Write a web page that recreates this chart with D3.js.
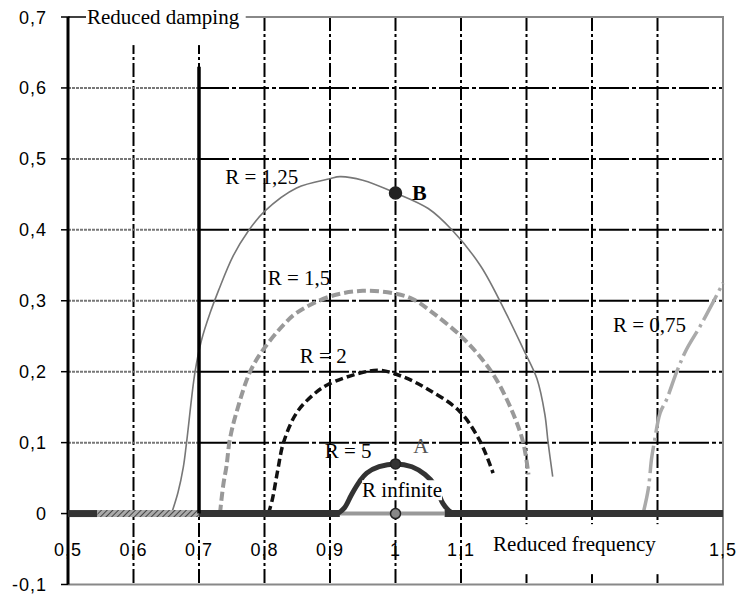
<!DOCTYPE html>
<html>
<head>
<meta charset="utf-8">
<script src="https://cdn.jsdelivr.net/npm/d3@7"></script>
<style>
  body { margin: 0; background: #fff; }
  .tick-label { font-family: "Liberation Sans", Arial, sans-serif; font-size: 18px; fill: #000; }
  .note { font-family: "Liberation Serif", "Times New Roman", Times, "DejaVu Serif", serif; font-size: 21px; fill: #000; }
</style>
</head>
<body>
<div class="damping-chart"></div>
<script>
// axis ticks (tenths)
var xTicks = [5, 6, 7, 8, 9, 10, 11, 12, 13, 14, 15];
var xLabels = [5, 6, 7, 8, 9, 10, 11, 15];
var yTicks = [-1, 0, 1, 2, 3, 4, 5, 6, 7];

// curves: [reduced frequency, reduced damping]
var r125 = [[0.658,0],[0.668,0.03],[0.676,0.065],[0.681,0.1],[0.694,0.2],[0.704,0.245],[0.717,0.283],[0.73,0.315],
  [0.752,0.363],[0.775,0.398],[0.80,0.426],[0.849,0.459],[0.90,0.472],[0.915,0.475],[0.95,0.47],[1.0,0.452],
  [1.05,0.43],[1.086,0.40],[1.13,0.349],[1.17,0.28],[1.195,0.232],[1.216,0.19],[1.228,0.14],[1.233,0.10],[1.24,0.052]];
var r15 = [[0.732,0],[0.737,0.04],[0.742,0.067],[0.747,0.104],[0.757,0.142],[0.778,0.2],[0.798,0.231],[0.829,0.266],
  [0.849,0.283],[0.90,0.306],[0.95,0.314],[1.0,0.31],[1.027,0.302],[1.057,0.283],[1.10,0.25],[1.13,0.22],
  [1.154,0.189],[1.18,0.14],[1.195,0.10],[1.203,0.055]];
var r2 = [[0.806,0],[0.812,0.02],[0.82,0.06],[0.829,0.1],[0.849,0.142],[0.875,0.168],[0.897,0.182],[0.946,0.198],
  [0.976,0.202],[1.011,0.193],[1.05,0.175],[1.098,0.144],[1.129,0.102],[1.149,0.057]];
var rInfinite = [[0.912,0],[0.922,0.008],[0.933,0.027],[0.945,0.045],[0.956,0.057],[0.975,0.066],[1.0,0.07],
  [1.025,0.066],[1.045,0.055],[1.06,0.04],[1.072,0.015],[1.085,0.002],[1.11,0]];
var r075 = [[1.378,0],[1.386,0.035],[1.391,0.078],[1.395,0.1],[1.404,0.142],[1.414,0.161],[1.429,0.199],
  [1.444,0.231],[1.465,0.264],[1.486,0.3],[1.5,0.325]];

// pieces of the zero line
var zeroParts = [
  { from: 0.5,   to: 0.545, kind: "dark" },
  { from: 0.545, to: 0.7,   kind: "hatch" },
  { from: 0.7,   to: 0.915, kind: "dark" },
  { from: 0.915, to: 1.075, kind: "light" },
  { from: 1.075, to: 1.5,   kind: "dark" }
];

// marked points
var points = [
  { f: 1.0, d: 0.452, kind: "B" },
  { f: 1.0, d: 0.07,  kind: "A" },
  { f: 1.0, d: 0,     kind: "zero" }
];

// annotations, anchored in data units
var notes = [
  { text: "R = 1,25", f: 0.740, d: 0.464 },
  { text: "R = 1,5",  f: 0.805, d: 0.322 },
  { text: "R = 2",    f: 0.854, d: 0.212 },
  { text: "R = 5",    f: 0.892, d: 0.079 },
  { text: "R = 0,75", f: 1.332, d: 0.256 }
];

var width = 738, height = 598;

var svg = d3.select(".damping-chart")
    .append("svg")
    .attr("width", width)
    .attr("height", height);

var x = d3.scaleLinear().domain([0.5, 1.5]).range([68, 723]);
var y = d3.scaleLinear().domain([-0.1, 0.7]).range([584.5, 17]);

var loc = d3.formatLocale({ decimal: ",", thousands: " ", grouping: [3], currency: ["", ""], minus: "-" });
var fmt = loc.format("~g");

var defs = svg.append("defs");
var hatch = defs.append("pattern")
    .attr("id", "hatch")
    .attr("patternUnits", "userSpaceOnUse")
    .attr("width", 4).attr("height", 4)
    .attr("patternTransform", "rotate(45)");
hatch.append("rect").attr("width", 4).attr("height", 4).attr("fill", "#aaa");
hatch.append("line").attr("x1", 0).attr("y1", 0).attr("x2", 0).attr("y2", 4)
    .attr("stroke", "#444").attr("stroke-width", 2);

// grid
var grid = svg.append("g").attr("class", "grid");

grid.selectAll("line.vgrid")
    .data(xTicks.slice(1, -1))
  .enter().append("line")
    .attr("class", "vgrid")
    .attr("x1", function(d) { return x(d / 10); })
    .attr("x2", function(d) { return x(d / 10); })
    .attr("y1", y(0.7))
    .attr("y2", y(-0.1))
    .attr("stroke", "#000")
    .attr("stroke-width", 2)
    .attr("stroke-dasharray", "14,3,3,3");

var hgrid = yTicks.filter(function(d) { return d > 0 && d < 7; });

grid.selectAll("line.hgrid")
    .data(hgrid)
  .enter().append("line")
    .attr("class", "hgrid")
    .attr("x1", x(0.7))
    .attr("x2", x(1.5))
    .attr("y1", function(d) { return y(d / 10); })
    .attr("y2", function(d) { return y(d / 10); })
    .attr("stroke", "#000")
    .attr("stroke-width", 2)
    .attr("stroke-dasharray", "30,3,4,3");

grid.selectAll("line.hgrid-left")
    .data(hgrid)
  .enter().append("line")
    .attr("class", "hgrid-left")
    .attr("x1", x(0.5))
    .attr("x2", x(0.7))
    .attr("y1", function(d) { return y(d / 10); })
    .attr("y2", function(d) { return y(d / 10); })
    .attr("stroke", "#777")
    .attr("stroke-width", 2)
    .attr("stroke-dasharray", "3,1");

// frame
svg.append("path")
    .attr("d", "M" + x(0.5) + "," + y(0.7) + "H" + x(1.5) + "V" + y(-0.1) + "H" + x(0.5))
    .attr("fill", "none")
    .attr("stroke", "#888")
    .attr("stroke-width", 2);

// left axis
var yAxis = svg.append("g").attr("class", "y-axis");
yAxis.append("line")
    .attr("x1", x(0.5)).attr("x2", x(0.5))
    .attr("y1", y(0.7)).attr("y2", y(-0.1))
    .attr("stroke", "#000").attr("stroke-width", 3);
yAxis.selectAll("line.tk")
    .data(yTicks)
  .enter().append("line")
    .attr("class", "tk")
    .attr("x1", x(0.5) - 7).attr("x2", x(0.5))
    .attr("y1", function(d) { return y(d / 10); })
    .attr("y2", function(d) { return y(d / 10); })
    .attr("stroke", "#000").attr("stroke-width", 1.5);
yAxis.selectAll("text")
    .data(yTicks)
  .enter().append("text")
    .attr("class", "tick-label")
    .attr("x", x(0.5) - 21)
    .attr("y", function(d) { return y(d / 10) + 6.5; })
    .attr("text-anchor", "end")
    .attr("letter-spacing", 1)
    .text(function(d) { return fmt(d / 10); });

// x tick labels (1,2 to 1,4 sit under the axis title)
svg.append("g").attr("class", "x-labels")
    .selectAll("text")
    .data(xLabels)
  .enter().append("text")
    .attr("class", "tick-label")
    .attr("x", function(d) { return x(d / 10); })
    .attr("y", y(-0.1) - 29)
    .attr("text-anchor", "middle")
    .attr("letter-spacing", 1)
    .text(function(d) { return fmt(d / 10); });

var line = d3.line()
    .curve(d3.curveCatmullRom)
    .x(function(d) { return x(d[0]); })
    .y(function(d) { return y(d[1]); });

var curves = svg.append("g").attr("class", "curves").attr("fill", "none");

curves.append("path").datum(r125)
    .attr("d", line).attr("stroke", "#777").attr("stroke-width", 1.6);

curves.append("path").datum(r15)
    .attr("d", line).attr("stroke", "#999").attr("stroke-width", 4)
    .attr("stroke-dasharray", "9,4");

curves.append("path").datum(r2)
    .attr("d", line).attr("stroke", "#111").attr("stroke-width", 3.5)
    .attr("stroke-dasharray", "8,4");

curves.append("path").datum(r075)
    .attr("d", line).attr("stroke", "#aaa").attr("stroke-width", 3.5)
    .attr("stroke-dasharray", "28,5,3,5");

// zero line
var zeroStroke = { dark: "#333", hatch: "url(#hatch)", light: "#999" };
var zeroWidth = { dark: 7, hatch: 7, light: 4 };
svg.append("g").attr("class", "zero-line")
    .selectAll("line")
    .data(zeroParts)
  .enter().append("line")
    .attr("x1", function(d) { return x(d.from); })
    .attr("x2", function(d) { return x(d.to); })
    .attr("y1", y(0))
    .attr("y2", y(0))
    .attr("stroke", function(d) { return zeroStroke[d.kind]; })
    .attr("stroke-width", function(d) { return zeroWidth[d.kind]; });

// R infinite bump
svg.append("path").datum(rInfinite)
    .attr("d", line).attr("fill", "none")
    .attr("stroke", "#333").attr("stroke-width", 5);

// black vertical at 0.7
svg.append("line")
    .attr("x1", x(0.7)).attr("x2", x(0.7))
    .attr("y1", y(0)).attr("y2", y(0.63))
    .attr("stroke", "#000").attr("stroke-width", 3.5);

// markers
var markerFill = { A: "#333", B: "#222", zero: "#888" };
var markerR = { A: 5, B: 6, zero: 5 };
svg.append("g").attr("class", "markers")
    .selectAll("circle")
    .data(points)
  .enter().append("circle")
    .attr("cx", function(d) { return x(d.f); })
    .attr("cy", function(d) { return y(d.d); })
    .attr("r", function(d) { return markerR[d.kind]; })
    .attr("fill", function(d) { return markerFill[d.kind]; })
    .attr("stroke", "#222")
    .attr("stroke-width", 1.5);

// R labels
svg.append("g").attr("class", "notes")
    .selectAll("text")
    .data(notes)
  .enter().append("text")
    .attr("class", "note")
    .attr("x", function(d) { return x(d.f); })
    .attr("y", function(d) { return y(d.d); })
    .text(function(d) { return d.text; });

svg.append("text").attr("class", "note")
    .attr("x", x(1.025)).attr("y", y(0.442))
    .attr("font-weight", "bold").style("font-size", "22px")
    .text("B");

svg.append("text").attr("class", "note")
    .attr("x", x(1.027)).attr("y", y(0.085))
    .style("fill", "#555")
    .text("A");

// boxed titles
function boxedLabel(txt, f, d, pad) {
    var g = svg.append("g");
    var rect = g.append("rect").attr("fill", "#fff");
    var t = g.append("text").attr("class", "note")
        .attr("x", x(f)).attr("y", y(d)).text(txt);
    var bb = t.node().getBBox();
    rect.attr("x", bb.x - pad[3])
        .attr("y", bb.y - pad[0])
        .attr("width", bb.width + pad[1] + pad[3])
        .attr("height", bb.height + pad[0] + pad[2]);
    return g;
}

boxedLabel("R infinite", 0.949, 0.023, [-2, 0, -2, 0]);
boxedLabel("Reduced frequency", 1.149, -0.053, [8, 40, 18, 10]);
boxedLabel("Reduced damping", 0.529, 0.69, [20, 6, 16, 17]);

// short leader from axis to the y title
svg.append("line")
    .attr("x1", x(0.5)).attr("x2", x(0.5) + 18)
    .attr("y1", y(0.7)).attr("y2", y(0.7))
    .attr("stroke", "#000").attr("stroke-width", 1.5);
</script>
</body>
</html>
